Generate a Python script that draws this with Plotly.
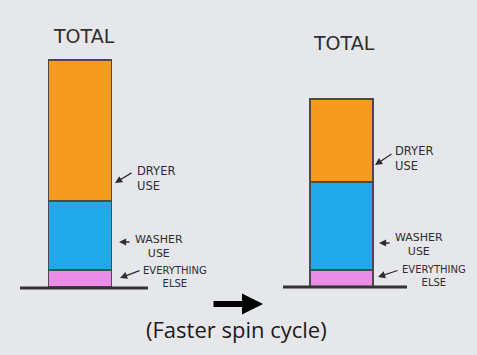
import plotly.graph_objects as go

W, H = 477, 355

# ---- data (arbitrary energy units) ----
scenarios = ["Normal spin", "Faster spin"]
everything_else = [17, 17]
washer_use = [69, 88]
dryer_use = [141, 83]

segment_names = ["EVERYTHING ELSE", "WASHER USE", "DRYER USE"]
segment_colors = ["#e98de6", "#20a8e9", "#f49b20"]

total_label = "TOTAL"
caption = "(Faster spin cycle)"

# ---- helpers: pixel -> paper ----
def px(x):
    return x / W

def py(y):
    return 1 - y / H

fig = go.Figure()
for vals, name, col in zip([everything_else, washer_use, dryer_use], segment_names, segment_colors):
    fig.add_trace(go.Bar(
        x=scenarios, y=vals, name=name, width=0.24,
        marker=dict(color=col, line=dict(color="#4a4a4a", width=1.5)),
        showlegend=False, hoverinfo="x+y+name",
    ))

ink = "#2e2e2e"
hand = "DejaVu Sans"
annotations = []

# TOTAL labels
for cx, cy in [(84, 36), (344, 43)]:
    annotations.append(dict(x=px(cx), y=py(cy), xref="paper", yref="paper",
                            xanchor="center", yanchor="middle",
                            text=total_label, showarrow=False,
                            font=dict(family=hand, size=19, color=ink)))

# segment labels with hand-drawn-like arrows
label_specs = [
    # (text, x_left, y_center, size, align, arrow tip, arrow tail)
    ("DRYER<br>USE", 136, 178, 11.5, "left", (115, 183), (133, 172)),
    ("WASHER<br>USE", 134, 246, 11, "center", (119, 242), (131, 242)),
    ("EVERYTHING<br>ELSE", 142, 277, 10, "center", (120, 278), (141, 270)),
    ("DRYER<br>USE", 394, 158, 11.5, "left", (375, 165), (393, 153)),
    ("WASHER<br>USE", 394, 244, 11, "center", (379, 243), (391, 243)),
    ("EVERYTHING<br>ELSE", 401, 276, 10, "center", (378, 277), (399, 270)),
]
for text, lx, ly, sz, al, tip, tail in label_specs:
    annotations.append(dict(x=px(lx), y=py(ly), xref="paper", yref="paper",
                            text=text, showarrow=False, xanchor="left", yanchor="middle",
                            align=al, borderpad=0,
                            font=dict(family=hand, size=sz, color=ink)))
    annotations.append(dict(x=px(tip[0]), y=py(tip[1]), xref="paper", yref="paper",
                            ax=tail[0] - tip[0], ay=tail[1] - tip[1],
                            text="", showarrow=True, arrowhead=2, arrowsize=1.1,
                            arrowwidth=1.3, arrowcolor=ink))

# bottom black arrow
annotations.append(dict(x=px(263), y=py(304), xref="paper", yref="paper",
                        ax=212 - 263, ay=0, text="", showarrow=True,
                        arrowhead=2, arrowsize=0.7, arrowwidth=6, arrowcolor="#000000"))

# caption
annotations.append(dict(x=px(236.5), y=py(329), xref="paper", yref="paper",
                        xanchor="center", yanchor="middle",
                        text=caption, showarrow=False,
                        font=dict(family="Open Sans", size=22, color="#1a1a1a")))

shapes = [
    dict(type="line", xref="paper", yref="paper", x0=px(20), x1=px(148), y0=py(288), y1=py(288),
         line=dict(color="#333333", width=3)),
    dict(type="line", xref="paper", yref="paper", x0=px(283), x1=px(407), y0=py(287), y1=py(287),
         line=dict(color="#333333", width=3)),
]

fig.update_layout(
    width=W, height=H, barmode="stack",
    margin=dict(l=0, r=0, t=0, b=0),
    paper_bgcolor="#e6e7ea", plot_bgcolor="#e6e7ea",
    xaxis=dict(type="category", range=[-0.306, 1.518], visible=False),
    yaxis=dict(range=[-68, 287], visible=False),
    annotations=annotations, shapes=shapes,
)

fig.write_html("out.html", config={"displayModeBar": False},
               post_script="document.body.style.margin='0';document.body.style.padding='0';document.body.style.background='#e6e7ea';")
